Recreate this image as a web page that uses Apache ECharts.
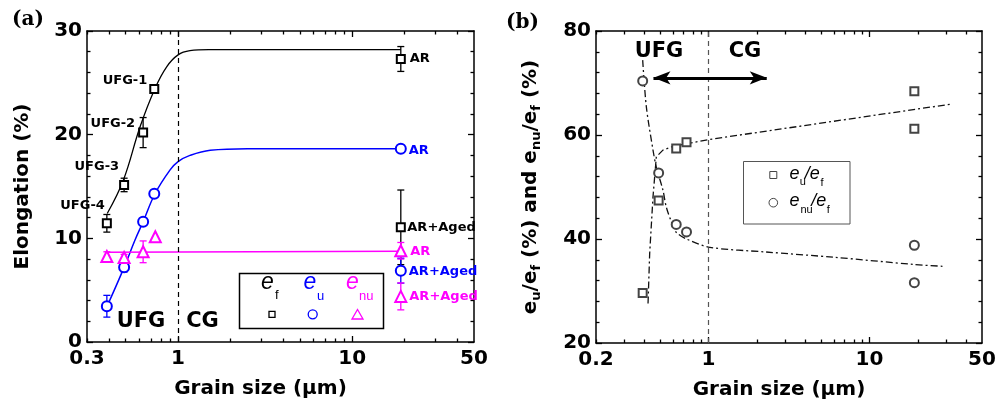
<!DOCTYPE html>
<html><head><meta charset="utf-8">
<script src="https://cdn.jsdelivr.net/npm/echarts@6/dist/echarts.min.js"></script>
<style>html,body{margin:0;padding:0;background:#fff}#c{width:1003px;height:408px}</style>
</head><body><div id="c"></div>
<script>
// ===== Panel (a) data: grain size (μm) and elongation (%) =====
const sizeA   = [0.39, 0.49, 0.63, 0.73, 19, 19];
const sizeNuA = [0.39, 0.49, 0.63, 0.74, 19, 19];
const ef      = [11.45, 15.15, 20.2, 24.4, 27.3, 11.06];
const efErr   = [0.85, 0.65, 1.45, 0.3, 1.2, 3.6];
const eu      = [3.45, 7.2, 11.6, 14.3, 18.65, 6.88];
const euErr   = [1.05, 0.45, 0.3, 0.3, 0.2, 1.2];
const enu     = [8.25, 8.15, 8.7, 10.15, 8.8, 4.4];
const enuErr  = [0.45, 0.3, 1.05, 0, 0.8, 1.3];
const efLabels  = ['UFG-4', 'UFG-3', 'UFG-2', 'UFG-1', 'AR', 'AR+Aged'];
const euLabels  = ['', '', '', '', 'AR', 'AR+Aged'];
const enuLabels = ['', '', '', '', 'AR', 'AR+Aged'];
const efFitSize  = [0.392, 0.485, 0.605, 0.737, 0.86, 1.0, 1.17, 1.5, 2.5, 19];
const efFit      = [12.4, 15.6, 20.76, 24.46, 26.55, 27.7, 28.1, 28.2, 28.2, 28.2];
const euFitSize  = [0.39, 0.49, 0.566, 0.63, 0.737, 0.9, 1.0, 1.17, 1.53, 2.5, 19];
const euFit      = [3.4, 7.2, 9.84, 11.6, 14.3, 16.6, 17.4, 18.0, 18.5, 18.65, 18.65];
const enuFitSize = [0.385, 19];
const enuFit     = [8.65, 8.75];

// ===== Panel (b) data: ratios (%) =====
const sizeB    = [0.39, 0.49, 0.63, 0.73, 19, 19];
const euRatio  = [29.6, 47.4, 57.4, 58.6, 68.4, 61.2];
const enuRatio = [70.4, 52.7, 42.8, 41.35, 38.8, 31.6];
const euRatioFitSize  = [0.421, 0.431, 0.452, 0.474, 0.521, 0.602, 0.99, 31.5];
const euRatioFit      = [27.6, 37.2, 48.1, 55.8, 57.1, 57.8, 59.1, 65.9];
const enuRatioFitSize = [0.39, 0.411, 0.452, 0.474, 0.521, 0.546, 0.588, 0.63, 0.73, 1.02, 2.28, 5.94, 19, 28.4];
const enuRatioFit     = [74.4, 65.4, 57.1, 53.8, 49.4, 46.2, 43.3, 41.3, 40.0, 38.4, 37.5, 36.5, 35.1, 34.75];
const arrowSizes = [0.455, 2.3];
const arrowLevel = 71;
const boundarySize = 1;

// ===== Axis ticks =====
const xRangeA = [0.3, 50];
const xRangeB = [0.2, 50];
const xLabelsA = [0.3, 1, 10, 50];
const xLabelsB = [0.2, 1, 10, 50];
const xMajorTicks = [1, 10];
const xMinorTicks = [0.2, 0.3, 0.4, 0.5, 0.6, 0.7, 0.8, 0.9, 2, 3, 4, 5, 6, 7, 8, 9, 20, 30, 40];
const yRangeA = [0, 30, 10];
const yRangeB = [20, 80, 20];

// ===== Styling / building =====
const L = Math.log10;
const FONT = 'DejaVu Sans';
const BLACK = '#000', BLUE = '#0000ff', MAG = '#ff00ff', GRAY = '#444';
const lblFont = {fontFamily: FONT, fontWeight: 'bold', fontSize: 20, color: '#000'};
const axisLineStyle = {show: true, onZero: false, lineStyle: {color: '#000', width: 1.5}};
const tickLine = {color: '#000', width: 1.3};
const fmt = v => String(parseFloat(Math.pow(10, v).toPrecision(3)));

function xAxesFor(gMain, gMinor, range, labels, nameGap, namePad) {
  const base = {type: 'value', min: L(range[0]), max: L(range[1]), splitLine: {show: false}};
  return [
    Object.assign({}, base, {gridIndex: gMain, position: 'bottom', axisLine: axisLineStyle,
      axisTick: {show: true, inside: true, length: 6, lineStyle: tickLine, customValues: xMajorTicks.map(L)},
      axisLabel: Object.assign({show: true, margin: 7, customValues: labels.map(L), formatter: fmt}, lblFont),
      name: 'Grain size (\u03bcm)', nameLocation: 'middle', nameGap: nameGap,
      nameTextStyle: Object.assign({padding: namePad}, lblFont)}),
    Object.assign({}, base, {gridIndex: gMain, position: 'top', axisLine: axisLineStyle,
      axisTick: {show: true, inside: true, length: 6, lineStyle: tickLine, customValues: xMajorTicks.map(L)},
      axisLabel: {show: false}}),
    Object.assign({}, base, {gridIndex: gMinor, position: 'bottom', axisLine: {show: false, onZero: false},
      axisTick: {show: true, inside: true, length: 3.5, lineStyle: tickLine, customValues: xMinorTicks.map(L)},
      axisLabel: {show: false}}),
    Object.assign({}, base, {gridIndex: gMinor, position: 'top', axisLine: {show: false, onZero: false},
      axisTick: {show: true, inside: true, length: 3.5, lineStyle: tickLine, customValues: xMinorTicks.map(L)},
      axisLabel: {show: false}})
  ];
}
function yAxesFor(gMain, gMinor, r, name, nameGap, nameStyle) {
  const base = {type: 'value', min: r[0], max: r[1], interval: r[2], splitLine: {show: false},
    axisLine: axisLineStyle,
    axisTick: {show: true, inside: true, length: 6, lineStyle: tickLine},
    minorTick: {show: true, splitNumber: 5, length: 3.5, lineStyle: tickLine},
    minorSplitLine: {show: false}};
  return [
    Object.assign({}, base, {gridIndex: gMain, position: 'left',
      axisLabel: Object.assign({show: true, margin: 5}, lblFont),
      name: name, nameLocation: 'middle', nameGap: nameGap, nameTextStyle: nameStyle}),
    Object.assign({}, base, {gridIndex: gMain, position: 'right', axisLabel: {show: false}}),
    {type: 'value', gridIndex: gMinor, show: false, min: 0, max: 1}
  ];
}

function errorBars(xs, ys, errs, color, xi, yi) {
  return {
    type: 'custom', xAxisIndex: xi, yAxisIndex: yi, silent: true, z: 2,
    data: xs.map((x, i) => [L(x), ys[i], errs[i]]),
    renderItem: (params, api) => {
      const x = api.value(0), y = api.value(1), e = api.value(2);
      if (!e) return {type: 'group', children: []};
      const p1 = api.coord([x, y + e]), p2 = api.coord([x, y - e]);
      const w = 3.5, st = {stroke: color, lineWidth: 1.3};
      return {type: 'group', children: [
        {type: 'line', shape: {x1: p1[0], y1: p1[1], x2: p2[0], y2: p2[1]}, style: st},
        {type: 'line', shape: {x1: p1[0] - w, y1: p1[1], x2: p1[0] + w, y2: p1[1]}, style: st},
        {type: 'line', shape: {x1: p2[0] - w, y1: p2[1], x2: p2[0] + w, y2: p2[1]}, style: st}
      ]};
    }
  };
}
function points(xs, ys, labels, labelCfg, symbol, size, color, bw, xi, yi) {
  return {
    type: 'scatter', xAxisIndex: xi, yAxisIndex: yi, symbol: symbol, symbolSize: size, z: 4,
    itemStyle: {color: color, borderColor: color, borderWidth: bw, opacity: 1},
    label: {fontFamily: FONT, fontWeight: 'bold', fontSize: 13, color: color},
    data: xs.map((x, i) => {
      const d = {value: [L(x), ys[i]]};
      if (labels && labels[i]) d.label = Object.assign({show: true, formatter: labels[i]}, labelCfg[i]);
      return d;
    })
  };
}
function fitLine(xs, ys, color, width, type, smooth, xi, yi, extra) {
  return Object.assign({
    type: 'line', xAxisIndex: xi, yAxisIndex: yi, showSymbol: false, symbol: 'none', silent: true, z: 3,
    smooth: smooth,
    lineStyle: {color: color, width: width, type: type},
    data: xs.map((x, i) => [L(x), ys[i]])
  }, extra || {});
}

// label placements (styles, not data)
const efLabelCfg = [
  {position: 'left', distance: 0, offset: [3, -18]},
  {position: 'left', distance: 0, offset: [0, -18]},
  {position: 'left', distance: 3, offset: [0, -9]},
  {position: 'left', distance: 2, offset: [0, -8]},
  {position: 'right', distance: 4, offset: [0, 0]},
  {position: 'right', distance: 1.5, offset: [0, 0]}
];
const euLabelCfg = [null, null, null, null,
  {position: 'right', distance: 2, offset: [0, 1.5]},
  {position: 'right', distance: 2, offset: [0, 1]}];
const enuLabelCfg = [null, null, null, null,
  {position: 'right', distance: 3, offset: [0, 1]},
  {position: 'right', distance: 2, offset: [0, 0.5]}];

const dashedBoundary = (color) => ({silent: true, symbol: 'none', label: {show: false},
  lineStyle: {color: color, type: [5, 4], width: 1.2}, data: [{xAxis: L(boundarySize)}]});

const bNameRich = {
  m: {fontFamily: FONT, fontWeight: 'bold', fontSize: 20, lineHeight: 24, color: '#000'},
  s: {fontFamily: FONT, fontWeight: 'bold', fontSize: 13, lineHeight: 13, verticalAlign: 'bottom', color: '#000'}
};

function txt(text, x, y, font, fill, align, valign) {
  return {type: 'text', x: x, y: y, z: 100, silent: true,
    style: {text: text, font: font, fill: fill || '#000', textAlign: align || 'left', align: align || 'left',
      textVerticalAlign: valign || 'middle', verticalAlign: valign || 'middle'}};
}
const bigFont = 'bold 21px "DejaVu Sans"';
const eFont = 'italic 23px "Liberation Sans"';
const subFont = '13px "Liberation Sans"';
const eFontB = 'italic 18px "Liberation Sans"';
const subFontB = '11px "Liberation Sans"';

const option = {
  animation: false,
  backgroundColor: '#fff',
  textStyle: {fontFamily: FONT},
  grid: [
    {left: 87, top: 31, width: 387, height: 311},
    {left: 87, top: 31, width: 387, height: 311},
    {left: 596, top: 31, width: 386, height: 312},
    {left: 596, top: 31, width: 386, height: 312}
  ],
  xAxis: [].concat(
    xAxesFor(0, 1, xRangeA, xLabelsA, 37, [0, 40, 0, 0]),
    xAxesFor(2, 3, xRangeB, xLabelsB, 37, [0, 20, 0, 0])
  ),
  yAxis: [].concat(
    yAxesFor(0, 1, yRangeA, 'Elongation (%)', 54, lblFont),
    yAxesFor(2, 3, yRangeB, '{m|e}{s|u}{m|/e}{s|f}{m| (%) and e}{s|nu}{m|/e}{s|f}{m| (%)}', 53, {rich: bNameRich})
  ),
  series: [
    // panel (a)
    errorBars(sizeA, ef, efErr, BLACK, 0, 0),
    errorBars(sizeA, eu, euErr, BLUE, 0, 0),
    errorBars(sizeNuA, enu, enuErr, MAG, 0, 0),
    fitLine(efFitSize, efFit, BLACK, 1.3, 'solid', 0.4, 0, 0, {markLine: dashedBoundary('#000')}),
    fitLine(euFitSize, euFit, BLUE, 1.5, 'solid', 0.4, 0, 0),
    fitLine(enuFitSize, enuFit, MAG, 1.5, 'solid', false, 0, 0),
    points(sizeA, ef, efLabels, efLabelCfg, 'emptyRect', 8, BLACK, 1.3, 0, 0),
    points(sizeA, eu, euLabels, euLabelCfg, 'emptyCircle', 10, BLUE, 1.3, 0, 0),
    points(sizeNuA, enu, enuLabels, enuLabelCfg, 'emptyTriangle', 11, MAG, 1.3, 0, 0),
    // panel (b)
    fitLine(euRatioFitSize, euRatioFit, '#111', 1.3, [7, 3, 2, 3], false, 4, 3, {markLine: dashedBoundary('#555')}),
    fitLine(enuRatioFitSize, enuRatioFit, '#111', 1.3, [7, 3, 2, 3], 0.3, 4, 3, {markLine: {
      silent: true, symbol: ['arrow', 'arrow'], symbolSize: [10, 17], label: {show: false},
      lineStyle: {color: '#000', width: 3, type: 'solid'},
      data: [[{coord: [L(arrowSizes[0]), arrowLevel]}, {coord: [L(arrowSizes[1]), arrowLevel]}]]}}),
    points(sizeB, euRatio, null, null, 'emptyRect', 8, GRAY, 1, 4, 3),
    points(sizeB, enuRatio, null, null, 'emptyCircle', 9, GRAY, 1, 4, 3)
  ],
  graphic: [
    txt('(a)', 12, 19.5, 'bold 20px "DejaVu Serif"'),
    txt('(b)', 506, 23, 'bold 20px "DejaVu Serif"'),
    txt('UFG', 141, 321.5, bigFont, '#000', 'center'),
    txt('CG', 202.5, 321.5, bigFont, '#000', 'center'),
    txt('UFG', 659, 52, bigFont, '#000', 'center'),
    txt('CG', 745, 52, bigFont, '#000', 'center'),
    // legend (a)
    {type: 'rect', z: 90, silent: true, shape: {x: 239.5, y: 273.5, width: 144, height: 55},
      style: {fill: '#fff', stroke: '#000', lineWidth: 1.5}},
    txt('e', 261, 283, eFont, BLACK), txt('f', 275, 295.5, subFont, BLACK),
    txt('e', 303.5, 283, eFont, BLUE), txt('u', 317, 296, subFont, BLUE),
    txt('e', 346, 283, eFont, MAG), txt('nu', 359, 296, subFont, MAG),
    {type: 'rect', z: 100, silent: true, shape: {x: 269, y: 311.3, width: 6, height: 6},
      style: {fill: 'none', stroke: BLACK, lineWidth: 1.3}},
    {type: 'circle', z: 100, silent: true, shape: {cx: 312.7, cy: 314.3, r: 4.5},
      style: {fill: 'none', stroke: BLUE, lineWidth: 1.3}},
    {type: 'polygon', z: 100, silent: true, shape: {points: [[352, 319], [363, 319], [357.5, 309.5]]},
      style: {fill: 'none', stroke: MAG, lineWidth: 1.3}},
    // legend (b)
    {type: 'rect', z: 90, silent: true, shape: {x: 743.5, y: 161.5, width: 106.5, height: 62.5},
      style: {fill: '#fff', stroke: '#555', lineWidth: 1}},
    {type: 'rect', z: 100, silent: true, shape: {x: 769.8, y: 171.5, width: 7, height: 7},
      style: {fill: 'none', stroke: GRAY, lineWidth: 1}},
    {type: 'circle', z: 100, silent: true, shape: {cx: 773.3, cy: 202.7, r: 4.3},
      style: {fill: 'none', stroke: GRAY, lineWidth: 1}},
    txt('e', 789.5, 173.7, eFontB), txt('u', 799.8, 182.3, subFontB),
    txt('/e', 804.8, 173.7, eFontB), txt('f', 820.5, 182.5, subFontB),
    txt('e', 789.5, 201.2, eFontB), txt('nu', 800.5, 210, subFontB),
    txt('/e', 811.2, 201.2, eFontB), txt('f', 826.8, 210, subFontB)
  ]
};
const chart = echarts.init(document.getElementById('c'), null, {renderer: 'canvas'});
chart.setOption(option);
</script></body></html>
